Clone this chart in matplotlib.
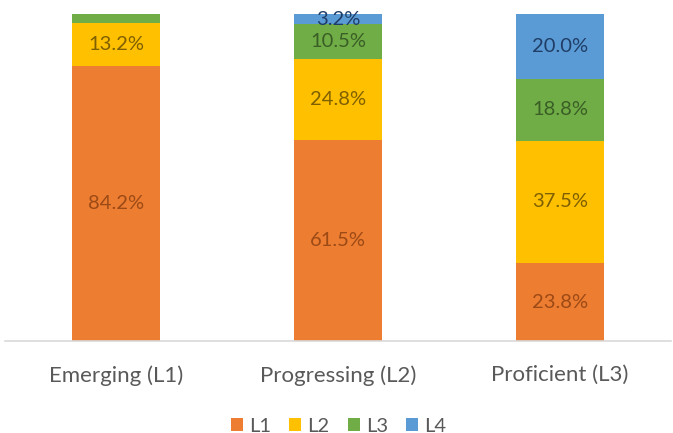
import matplotlib.pyplot as plt
import numpy as np

plt.rcParams['font.family'] = ['Lato', 'DejaVu Sans']

categories = ['Emerging (L1)', 'Progressing (L2)', 'Proficient (L3)']
series_names = ['L1', 'L2', 'L3', 'L4']
l1 = [84.2, 61.5, 23.8]
l2 = [13.2, 24.8, 37.5]
l3 = [2.6, 10.5, 18.8]
l4 = [0.0, 3.2, 20.0]
# which cells get a label (Excel hides the tiny ones)
show_label = [[True, True, True], [True, True, True], [False, True, True], [False, True, True]]

colors = ['#ED7D31', '#FFC000', '#70AD47', '#5B9BD5']
text_colors = ['#9C4A16', '#7F6000', '#3A5E25', '#1F3D66']

fig = plt.figure(figsize=(6.73, 4.33), dpi=100)
ax = fig.add_axes([5/673, 1 - 341/433, 666/673, 327/433])

x = np.arange(len(categories))
bottom = np.zeros(len(categories))
for i, vals in enumerate([l1, l2, l3, l4]):
    vals = np.array(vals)
    ax.bar(x, vals, 0.4, bottom=bottom, color=colors[i], label=series_names[i])
    for j in range(len(x)):
        if show_label[i][j]:
            ax.text(x[j], bottom[j] + vals[j] / 2, '%.1f%%' % vals[j],
                    ha='center', va='center', fontsize=14.5, color=text_colors[i])
    bottom += vals

ax.set_xlim(-0.5, 2.5)
ax.set_ylim(0, 100)
ax.set_yticks([])
ax.set_xticks(x)
ax.set_xticklabels(categories, fontsize=16, color='#595959')
ax.tick_params(axis='x', length=0, pad=17.5)
for s in ['top', 'left', 'right']:
    ax.spines[s].set_visible(False)
ax.spines['bottom'].set_color('#D9D9D9')
ax.spines['bottom'].set_linewidth(1.2)

leg = fig.legend(loc='center', bbox_to_anchor=(0.503, 1 - 426/433), ncol=4, frameon=False,
                 fontsize=14.5, handlelength=0.6, handleheight=0.6, handletextpad=0.3,
                 columnspacing=0.9)
for t in leg.get_texts():
    t.set_color('#595959')

fig.savefig('out.png', dpi=100)
